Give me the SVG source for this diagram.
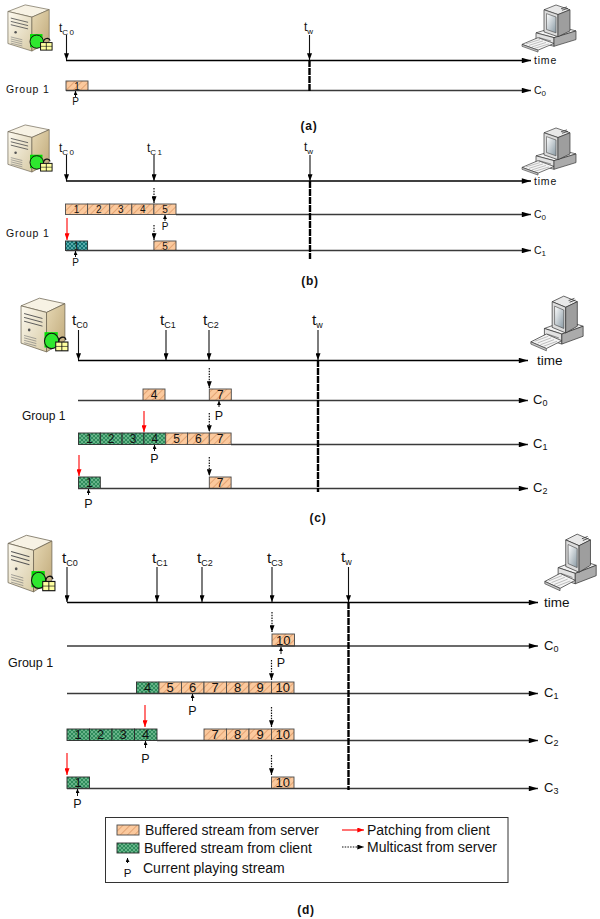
<svg xmlns="http://www.w3.org/2000/svg" width="600" height="919" viewBox="0 0 600 919">
<style>
  text { font-family: "Liberation Sans", Arial, sans-serif; fill: #111; }
  .axis { stroke: #000; stroke-width: 1.3; fill: none; }
  .row { stroke: #3a3a3a; stroke-width: 1.3; fill: none; }
  .tick { stroke: #111; stroke-width: 1.1; fill: none; }
  .mc { stroke: #111; stroke-width: 1.2; stroke-dasharray: 1.5 1.2; fill: none; }
  .patch { stroke: #f00; stroke-width: 1.1; fill: none; }
  .play { stroke: #111; stroke-width: 1; fill: none; }
  .tw { stroke: #000; stroke-width: 2.4; stroke-dasharray: 7 1; fill: none; }
  .bs { fill: url(#hatchSrv); stroke: #4a4a4a; stroke-width: 0.9; }
  .bc { fill: url(#hatchCli); stroke: #2b2b2b; stroke-width: 0.9; }
  .bt { fill: url(#hatchTeal); stroke: #2b2b2b; stroke-width: 0.9; }
  .n1 { font-size: 10px; text-anchor: middle; }
  .n2 { font-size: 12px; text-anchor: middle; }
  .n3 { font-size: 13px; text-anchor: middle; }
  .p1 { font-size: 10px; text-anchor: middle; }
  .p2 { font-size: 12.5px; text-anchor: middle; }
  .t1 { font-size: 12px; }
  .t2 { font-size: 15.5px; }
  .s1 { font-size: 8px; letter-spacing: 1.5px; }
  .s2 { font-size: 9px; }
  .c1 { font-size: 10.5px; }
  .c2 { font-size: 13px; }
  .lab1 { font-size: 10.5px; letter-spacing: 0.8px; }
  .lab2 { font-size: 13.5px; }
  .cap { font-size: 12px; font-weight: bold; text-anchor: middle; letter-spacing: 0.8px; }
  .leg { font-size: 14px; }
</style>
<defs>
  <pattern id="hatchSrv" width="5" height="5" patternUnits="userSpaceOnUse" patternTransform="rotate(45)">
    <rect width="5" height="5" fill="#fbc99d"/>
    <line x1="0.5" y1="0" x2="0.5" y2="5" stroke="#e3a474" stroke-width="1"/>
  </pattern>
  <pattern id="hatchCli" width="4" height="4" patternUnits="userSpaceOnUse">
    <rect width="4" height="4" fill="#2f8c5c"/>
    <path d="M0,0 L4,4 M4,0 L0,4" stroke="#7fc69c" stroke-width="0.7"/>
  </pattern>
  <pattern id="hatchTeal" width="4" height="4" patternUnits="userSpaceOnUse">
    <rect width="4" height="4" fill="#137474"/>
    <path d="M0,0 L4,4 M4,0 L0,4" stroke="#72c2c2" stroke-width="0.7"/>
  </pattern>
  <linearGradient id="srvFront" x1="0" y1="0" x2="1" y2="1">
    <stop offset="0" stop-color="#fdfaf0"/>
    <stop offset="1" stop-color="#d8cba6"/>
  </linearGradient>
  <linearGradient id="srvSide" x1="0" y1="0" x2="1" y2="1">
    <stop offset="0" stop-color="#e6d8b4"/>
    <stop offset="1" stop-color="#bfa878"/>
  </linearGradient>
  <linearGradient id="screen" x1="0" y1="0" x2="1" y2="1">
    <stop offset="0" stop-color="#ffffff"/>
    <stop offset="1" stop-color="#8a9aa4"/>
  </linearGradient>
  <marker id="ah" viewBox="0 0 8 6" refX="8" refY="3" markerWidth="7" markerHeight="5" markerUnits="userSpaceOnUse" orient="auto">
    <path d="M0,0 L8,3 L0,6 z" fill="#000"/>
  </marker>
  <marker id="ahL" viewBox="0 0 10 6" refX="10" refY="3" markerWidth="10" markerHeight="5.5" markerUnits="userSpaceOnUse" orient="auto">
    <path d="M0,0 L10,3 L0,6 z" fill="#000"/>
  </marker>
  <marker id="ahR" viewBox="0 0 8 6" refX="8" refY="3" markerWidth="7" markerHeight="5" markerUnits="userSpaceOnUse" orient="auto">
    <path d="M0,0 L8,3 L0,6 z" fill="#f00"/>
  </marker>
  <marker id="ahP" viewBox="0 0 6 6" refX="6" refY="3" markerWidth="4" markerHeight="4" markerUnits="userSpaceOnUse" orient="auto">
    <path d="M0,0 L6,3 L0,6 z" fill="#000"/>
  </marker>

  <!-- media server tower with lock badge -->
  <symbol id="server" viewBox="0 0 50 52" preserveAspectRatio="none">
    <polygon points="2,9 20,2 45,7 27,15" fill="#f7f2e4" stroke="#6b6350" stroke-width="0.7"/>
    <polygon points="2,9 27,15 27,51 2,43" fill="url(#srvFront)" stroke="#6b6350" stroke-width="0.7"/>
    <polygon points="27,15 45,7 45,41 27,51" fill="url(#srvSide)" stroke="#6b6350" stroke-width="0.7"/>
    <path d="M5,16 L23,20.5 M5,19.5 L23,24 M5,23 L23,27.5" stroke="#555" stroke-width="0.9"/>
    <circle cx="10" cy="31" r="1.3" fill="#555"/>
    <path d="M5,36 L17,39 M5,38.2 L17,41.2 M5,40.4 L17,43.4 M5,42.6 L17,45.6" stroke="#777" stroke-width="0.6"/>
    <rect x="25" y="33" width="13" height="14" fill="#00e000"/>
    <circle cx="32" cy="41" r="7" fill="#2ee82e" stroke="#111" stroke-width="1"/>
    <path d="M39,42 C39,37 45,36 46,40" fill="none" stroke="#111" stroke-width="1.2"/>
    <rect x="36" y="42" width="12" height="8" fill="#ffffa0" stroke="#111" stroke-width="1"/>
    <line x1="42" y1="42" x2="42" y2="50" stroke="#111" stroke-width="0.8"/>
    <line x1="36" y1="46" x2="48" y2="46" stroke="#111" stroke-width="0.6"/>
  </symbol>

  <!-- client workstation -->
  <symbol id="pc" viewBox="0 0 62 52" preserveAspectRatio="none">
    <polygon points="18,30 40,23 58,28 36,35" fill="#f2f2f2" stroke="#333" stroke-width="0.7"/>
    <polygon points="18,30 36,35 36,44 18,39" fill="#e2e2e2" stroke="#333" stroke-width="0.7"/>
    <polygon points="36,35 58,28 58,37 36,44" fill="#ababab" stroke="#333" stroke-width="0.7"/>
    <path d="M21,35 L33,38.5" stroke="#555" stroke-width="0.6"/>
    <polygon points="26,6 38,1 52,6 40,11" fill="#e8e8e8" stroke="#333" stroke-width="0.7"/>
    <polygon points="26,6 40,11 40,34 26,29" fill="#dcdcdc" stroke="#333" stroke-width="0.7"/>
    <polygon points="40,11 52,6 52,28 40,34" fill="#9e9e9e" stroke="#333" stroke-width="0.7"/>
    <path d="M43,5 L49,3 M44,6.5 L50,4.5" stroke="#333" stroke-width="0.8"/>
    <polygon points="28.5,10 38,13.5 38,30 28.5,26.5" fill="url(#screen)" stroke="#444" stroke-width="0.6"/>
    <polygon points="4,42 20,35 36,41 20,48" fill="#f4f4f4" stroke="#333" stroke-width="0.7"/>
    <polygon points="4,42 20,48 20,50 4,44" fill="#c8c8c8" stroke="#333" stroke-width="0.6"/>
    <path d="M8,41.5 L22,37 M11,43 L25,38.4 M14,44.6 L28,40 M17,46 L31,41.5" stroke="#888" stroke-width="0.5"/>
  </symbol>
</defs>

<rect width="600" height="919" fill="#fff"/>

<!-- ===== (a) ===== -->
<g id="panel-a">
  <g id="a-server"><use href="#server" x="6" y="3" width="48" height="49"/></g>
  <g id="a-client"><use href="#pc" x="518" y="4" width="62" height="50"/></g>
  <g id="a-labels">
    <text class="t1" x="59" y="32">t<tspan class="s1" dy="3">C0</tspan></text>
    <text class="t1" x="304" y="31">t<tspan class="s1" dy="3">w</tspan></text>
    <text class="lab1" x="534" y="64">time</text>
    <text class="c1" x="534" y="94">C<tspan class="s1" dy="2">0</tspan></text>
    <text class="lab1" x="6" y="93">Group 1</text>
    <text class="cap" x="309" y="130">(a)</text>
  </g>
  <g id="a-blocks">
    <g id="a-c0-1"><rect class="bs" x="66" y="81" width="22" height="9.5"/><text class="n1" x="77" y="89.5">1</text></g>
    <text class="p1" x="75.5" y="105">P</text>
  </g>
  <g id="a-connectors">
    <path class="axis" d="M66,60.5 H531" marker-end="url(#ahL)"/>
    <path class="row" d="M66,90.5 H531" marker-end="url(#ahL)"/>
    <path class="tick" d="M66.5,35 V60" marker-end="url(#ah)"/>
    <path class="tick" d="M309.5,35 V60" marker-end="url(#ah)"/>
    <path class="tw" d="M309.5,60 V92"/>
    <path class="play" d="M75.5,97 V91" marker-end="url(#ahP)"/>
  </g>
</g>

<!-- ===== (b) ===== -->
<g id="panel-b">
  <g id="b-server"><use href="#server" x="6" y="123" width="48" height="50"/></g>
  <g id="b-client"><use href="#pc" x="518" y="127" width="62" height="50"/></g>
  <g id="b-labels">
    <text class="t1" x="59" y="152">t<tspan class="s1" dy="3">C0</tspan></text>
    <text class="t1" x="147" y="152">t<tspan class="s1" dy="3">C1</tspan></text>
    <text class="t1" x="304" y="151">t<tspan class="s1" dy="3">w</tspan></text>
    <text class="lab1" x="534" y="185">time</text>
    <text class="c1" x="534" y="218">C<tspan class="s1" dy="2">0</tspan></text>
    <text class="c1" x="534" y="254">C<tspan class="s1" dy="2">1</tspan></text>
    <text class="lab1" x="6" y="237">Group 1</text>
    <text class="cap" x="310" y="285">(b)</text>
  </g>
  <g id="b-blocks">
    <g id="b-c0-1"><rect class="bs" x="65.5" y="204" width="22.1" height="10.5"/><text class="n1" x="76.6" y="213">1</text></g>
    <g id="b-c0-2"><rect class="bs" x="87.6" y="204" width="22.1" height="10.5"/><text class="n1" x="98.7" y="213">2</text></g>
    <g id="b-c0-3"><rect class="bs" x="109.7" y="204" width="22.1" height="10.5"/><text class="n1" x="120.8" y="213">3</text></g>
    <g id="b-c0-4"><rect class="bs" x="131.8" y="204" width="22.1" height="10.5"/><text class="n1" x="142.9" y="213">4</text></g>
    <g id="b-c0-5"><rect class="bs" x="153.9" y="204" width="22.1" height="10.5"/><text class="n1" x="165" y="213">5</text></g>
    <g id="b-c1-1"><rect class="bt" x="65.5" y="241" width="22.1" height="9.5"/><text class="n1" x="76.6" y="249.5" fill="#0b3b3b">1</text></g>
    <g id="b-c1-5"><rect class="bs" x="153.9" y="241" width="22.1" height="9.5"/><text class="n1" x="165" y="249.5">5</text></g>
    <text class="p1" x="165" y="230">P</text>
    <text class="p1" x="75.5" y="266">P</text>
  </g>
  <g id="b-connectors">
    <path class="axis" d="M66,181 H531" marker-end="url(#ahL)"/>
    <path class="row" d="M176,214.5 H531" marker-end="url(#ahL)"/>
    <path class="row" d="M66,250.5 H531" marker-end="url(#ahL)"/>
    <path class="tick" d="M66.5,155 V181" marker-end="url(#ah)"/>
    <path class="tick" d="M154,155 V181" marker-end="url(#ah)"/>
    <path class="tick" d="M310,155 V181" marker-end="url(#ah)"/>
    <path class="tw" d="M310,181 V259"/>
    <path class="mc" d="M154,188 V203" marker-end="url(#ah)"/>
    <path class="mc" d="M154,225 V240" marker-end="url(#ah)"/>
    <path class="patch" d="M67,218 V240" marker-end="url(#ahR)"/>
    <path class="play" d="M165,221 V215" marker-end="url(#ahP)"/>
    <path class="play" d="M75.5,257 V251" marker-end="url(#ahP)"/>
  </g>
</g>

<!-- ===== (c) ===== -->
<g id="panel-c">
  <g id="c-server"><use href="#server" x="19" y="296" width="51" height="57"/></g>
  <g id="c-client"><use href="#pc" x="527" y="295" width="60" height="58"/></g>
  <g id="c-labels">
    <text class="t2" x="72" y="325">t<tspan class="s2" dy="3">C0</tspan></text>
    <text class="t2" x="160" y="325">t<tspan class="s2" dy="3">C1</tspan></text>
    <text class="t2" x="203" y="325">t<tspan class="s2" dy="3">C2</tspan></text>
    <text class="t2" x="312" y="325">t<tspan class="s2" dy="3">w</tspan></text>
    <text class="lab2" x="537" y="365">time</text>
    <text class="c2" x="533" y="404">C<tspan class="s2" dy="2">0</tspan></text>
    <text class="c2" x="533" y="448">C<tspan class="s2" dy="2">1</tspan></text>
    <text class="c2" x="533" y="492">C<tspan class="s2" dy="2">2</tspan></text>
    <text class="lab2" x="22" y="420" style="font-size:12px">Group 1</text>
    <text class="cap" x="318" y="522">(c)</text>
  </g>
  <g id="c-blocks">
    <g id="c-c0-4"><rect class="bs" x="143" y="389" width="22" height="11.5"/><text class="n2" x="154" y="399">4</text></g>
    <g id="c-c0-7"><rect class="bs" x="209.3" y="389" width="22" height="11.5"/><text class="n2" x="220.3" y="399">7</text></g>
    <g id="c-c1-1"><rect class="bc" x="78.5" y="433" width="21.8" height="11.5"/><text class="n2" x="89.4" y="443">1</text></g>
    <g id="c-c1-2"><rect class="bc" x="100.3" y="433" width="21.8" height="11.5"/><text class="n2" x="111.2" y="443">2</text></g>
    <g id="c-c1-3"><rect class="bc" x="122.1" y="433" width="21.8" height="11.5"/><text class="n2" x="133" y="443">3</text></g>
    <g id="c-c1-4"><rect class="bc" x="143.9" y="433" width="21.8" height="11.5"/><text class="n2" x="154.8" y="443">4</text></g>
    <g id="c-c1-5"><rect class="bs" x="165.7" y="433" width="21.8" height="11.5"/><text class="n2" x="176.6" y="443">5</text></g>
    <g id="c-c1-6"><rect class="bs" x="187.5" y="433" width="21.8" height="11.5"/><text class="n2" x="198.4" y="443">6</text></g>
    <g id="c-c1-7"><rect class="bs" x="209.3" y="433" width="21.8" height="11.5"/><text class="n2" x="220.2" y="443">7</text></g>
    <g id="c-c2-1"><rect class="bc" x="78.5" y="477" width="21.8" height="11.5"/><text class="n2" x="89.4" y="487">1</text></g>
    <g id="c-c2-7"><rect class="bs" x="209.3" y="477" width="21.8" height="11.5"/><text class="n2" x="220.2" y="487">7</text></g>
    <text class="p2" x="219" y="420">P</text>
    <text class="p2" x="154.5" y="463">P</text>
    <text class="p2" x="88.5" y="508">P</text>
  </g>
  <g id="c-connectors">
    <path class="axis" d="M78,360.5 H528" marker-end="url(#ahL)"/>
    <path class="row" d="M78,400.5 H528" marker-end="url(#ahL)"/>
    <path class="row" d="M231,444.5 H528" marker-end="url(#ahL)"/>
    <path class="row" d="M78,488.5 H528" marker-end="url(#ahL)"/>
    <path class="tick" d="M78.5,330 V360" marker-end="url(#ah)"/>
    <path class="tick" d="M166,330 V360" marker-end="url(#ah)"/>
    <path class="tick" d="M209,330 V360" marker-end="url(#ah)"/>
    <path class="tick" d="M318,330 V360" marker-end="url(#ah)"/>
    <path class="tw" d="M318,360 V492"/>
    <path class="mc" d="M209.3,368 V388" marker-end="url(#ah)"/>
    <path class="mc" d="M209.3,413 V432" marker-end="url(#ah)"/>
    <path class="mc" d="M209.3,457 V476" marker-end="url(#ah)"/>
    <path class="patch" d="M144,411 V432" marker-end="url(#ahR)"/>
    <path class="patch" d="M79,455 V476" marker-end="url(#ahR)"/>
    <path class="play" d="M219,407 V401" marker-end="url(#ahP)"/>
    <path class="play" d="M154.5,451 V445" marker-end="url(#ahP)"/>
    <path class="play" d="M88.5,495 V489" marker-end="url(#ahP)"/>
  </g>
</g>

<!-- ===== (d) ===== -->
<g id="panel-d">
  <g id="d-server"><use href="#server" x="6" y="533" width="51" height="60"/></g>
  <g id="d-client"><use href="#pc" x="541" y="533" width="59" height="60"/></g>
  <g id="d-labels">
    <text class="t2" x="62" y="563">t<tspan class="s2" dy="3">C0</tspan></text>
    <text class="t2" x="152" y="563">t<tspan class="s2" dy="3">C1</tspan></text>
    <text class="t2" x="197" y="563">t<tspan class="s2" dy="3">C2</tspan></text>
    <text class="t2" x="267" y="563">t<tspan class="s2" dy="3">C3</tspan></text>
    <text class="t2" x="341" y="562">t<tspan class="s2" dy="3">w</tspan></text>
    <text class="lab2" x="544" y="607">time</text>
    <text class="c2" x="544" y="650">C<tspan class="s2" dy="2">0</tspan></text>
    <text class="c2" x="544" y="697">C<tspan class="s2" dy="2">1</tspan></text>
    <text class="c2" x="544" y="744">C<tspan class="s2" dy="2">2</tspan></text>
    <text class="c2" x="544" y="792">C<tspan class="s2" dy="2">3</tspan></text>
    <text class="lab2" x="8" y="667" style="font-size:12.5px">Group 1</text>
    <text class="cap" x="306" y="914">(d)</text>
  </g>
  <g id="d-blocks">
    <g id="d-c0-10"><rect class="bs" x="272" y="634" width="22.5" height="12"/><text class="n3" x="283.2" y="644.5">10</text></g>
    <g id="d-c1-4"><rect class="bc" x="136.5" y="682" width="22.5" height="11.5"/><text class="n3" x="147.7" y="692.3">4</text></g>
    <g id="d-c1-5"><rect class="bs" x="159" y="682" width="22.5" height="11.5"/><text class="n3" x="170.2" y="692.3">5</text></g>
    <g id="d-c1-6"><rect class="bs" x="181.5" y="682" width="22.5" height="11.5"/><text class="n3" x="192.7" y="692.3">6</text></g>
    <g id="d-c1-7"><rect class="bs" x="204" y="682" width="22.5" height="11.5"/><text class="n3" x="215.2" y="692.3">7</text></g>
    <g id="d-c1-8"><rect class="bs" x="226.5" y="682" width="22.5" height="11.5"/><text class="n3" x="237.7" y="692.3">8</text></g>
    <g id="d-c1-9"><rect class="bs" x="249" y="682" width="22.5" height="11.5"/><text class="n3" x="260.2" y="692.3">9</text></g>
    <g id="d-c1-10"><rect class="bs" x="271.5" y="682" width="22.5" height="11.5"/><text class="n3" x="282.7" y="692.3">10</text></g>
    <g id="d-c2-1"><rect class="bc" x="67" y="729" width="22.5" height="11.5"/><text class="n3" x="78.2" y="739.3">1</text></g>
    <g id="d-c2-2"><rect class="bc" x="89.5" y="729" width="22.5" height="11.5"/><text class="n3" x="100.7" y="739.3">2</text></g>
    <g id="d-c2-3"><rect class="bc" x="112" y="729" width="22.5" height="11.5"/><text class="n3" x="123.2" y="739.3">3</text></g>
    <g id="d-c2-4"><rect class="bc" x="134.5" y="729" width="22.5" height="11.5"/><text class="n3" x="145.7" y="739.3">4</text></g>
    <g id="d-c2-7"><rect class="bs" x="204" y="729" width="22.5" height="11.5"/><text class="n3" x="215.2" y="739.3">7</text></g>
    <g id="d-c2-8"><rect class="bs" x="226.5" y="729" width="22.5" height="11.5"/><text class="n3" x="237.7" y="739.3">8</text></g>
    <g id="d-c2-9"><rect class="bs" x="249" y="729" width="22.5" height="11.5"/><text class="n3" x="260.2" y="739.3">9</text></g>
    <g id="d-c2-10"><rect class="bs" x="271.5" y="729" width="22.5" height="11.5"/><text class="n3" x="282.7" y="739.3">10</text></g>
    <g id="d-c3-1"><rect class="bc" x="67" y="777" width="22.5" height="11.5"/><text class="n3" x="78.2" y="787.3">1</text></g>
    <g id="d-c3-10"><rect class="bs" x="271.5" y="777" width="22.5" height="11.5"/><text class="n3" x="282.7" y="787.3">10</text></g>
    <text class="p2" x="281" y="667">P</text>
    <text class="p2" x="192.5" y="715">P</text>
    <text class="p2" x="145.5" y="763">P</text>
    <text class="p2" x="77.5" y="808">P</text>
  </g>
  <g id="d-connectors">
    <path class="axis" d="M67,602.5 H538" marker-end="url(#ahL)"/>
    <path class="row" d="M67,646 H538" marker-end="url(#ahL)"/>
    <path class="row" d="M67,693.5 H538" marker-end="url(#ahL)"/>
    <path class="row" d="M157,740.5 H538" marker-end="url(#ahL)"/>
    <path class="row" d="M67,788.5 H538" marker-end="url(#ahL)"/>
    <path class="tick" d="M67,567 V602" marker-end="url(#ah)"/>
    <path class="tick" d="M157,567 V602" marker-end="url(#ah)"/>
    <path class="tick" d="M202,567 V602" marker-end="url(#ah)"/>
    <path class="tick" d="M272,567 V602" marker-end="url(#ah)"/>
    <path class="tick" d="M348.5,567 V602" marker-end="url(#ah)"/>
    <path class="tw" d="M348.5,602 V790"/>
    <path class="mc" d="M272,612 V632" marker-end="url(#ah)"/>
    <path class="mc" d="M271.5,660 V680" marker-end="url(#ah)"/>
    <path class="mc" d="M271.5,707 V727" marker-end="url(#ah)"/>
    <path class="mc" d="M271.5,755 V775" marker-end="url(#ah)"/>
    <path class="patch" d="M145,705 V727" marker-end="url(#ahR)"/>
    <path class="patch" d="M67,753 V775" marker-end="url(#ahR)"/>
    <path class="play" d="M281,654 V647" marker-end="url(#ahP)"/>
    <path class="play" d="M192.5,701 V694" marker-end="url(#ahP)"/>
    <path class="play" d="M145.5,748 V741" marker-end="url(#ahP)"/>
    <path class="play" d="M77.5,796 V789" marker-end="url(#ahP)"/>
  </g>
</g>

<!-- ===== legend ===== -->
<g id="legend">
  <rect x="105.5" y="817.5" width="402.5" height="65" fill="#fff" stroke="#333" stroke-width="1"/>
  <rect class="bs" x="117" y="825" width="22" height="10"/>
  <text class="leg" x="145" y="835">Buffered stream from server</text>
  <rect class="bc" x="117" y="843" width="22" height="10"/>
  <text class="leg" x="144" y="853">Buffered stream from client</text>
  <path class="play" d="M127.5,863 V858" marker-end="url(#ahP)"/>
  <text class="p2" x="127.5" y="877" style="font-size:11.5px">P</text>
  <text class="leg" x="143" y="873">Current playing stream</text>
  <path class="patch" d="M342,830 H364" marker-end="url(#ahR)"/>
  <text class="leg" x="367" y="835">Patching from client</text>
  <path class="mc" d="M342,847 H364" marker-end="url(#ah)"/>
  <text class="leg" x="367" y="852">Multicast from server</text>
</g>
</svg>
